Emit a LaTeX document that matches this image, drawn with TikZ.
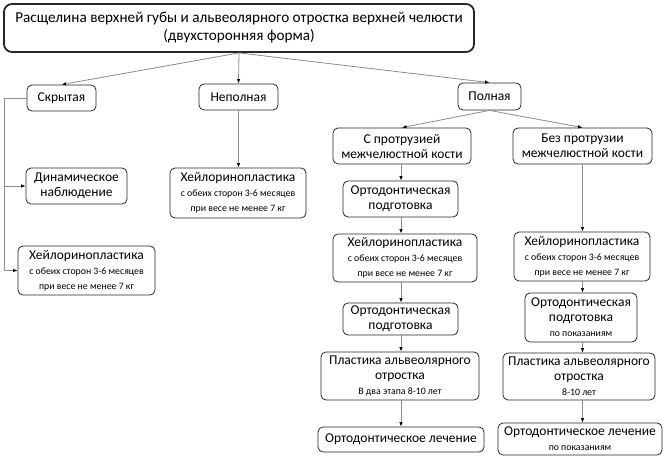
\documentclass[tikz,border=0pt]{standalone}
\usepackage{fontspec}
\setmainfont{Carlito}
\usetikzlibrary{arrows.meta}
\tikzset{
  box/.style={draw=black!85, line width=0.8pt, rounded corners=5pt, align=center, inner sep=0pt, fill=white, font=\fontsize{13.5}{15}\selectfont},
  conn/.style={draw=black!45, line width=0.8pt},
  arr/.style={conn, -{Latex[length=4.5pt,width=3.5pt,color=black]}},
}
\newcommand{\sm}[1]{{\fontsize{9.8}{12.5}\selectfont #1}}
\begin{document}
\begin{tikzpicture}[x=1pt,y=-1pt]
\useasboundingbox (0,0) rectangle (672,462);
\node[box, line width=1.8pt, rounded corners=8pt, minimum width=470pt, minimum height=48pt, font=\fontsize{15.2}{18}\selectfont] (title) at (239,28) {Расщелина верхней губы и альвеолярного отростка верхней челюсти\\(двухсторонняя форма)};
\node[box, minimum width=69pt, minimum height=26pt] (skr) at (61.5,98) {Скрытая};
\node[box, minimum width=79pt, minimum height=26pt] (nep) at (238.5,97) {Неполная};
\node[box, minimum width=63pt, minimum height=27pt] (pol) at (489.5,96.5) {Полная};
\node[box, minimum width=138pt, minimum height=36pt] (sprot) at (402,146) {С протрузией\\межчелюстной кости};
\node[box, minimum width=139pt, minimum height=36pt] (bprot) at (582.5,146) {Без протрузии\\межчелюстной кости};
\node[box, minimum width=101pt, minimum height=36pt] (din) at (76.5,186) {Динамическое\\наблюдение};
\node[box, minimum width=137pt, minimum height=49pt] (hl) at (86.5,270.5) {Хейлоринопластика\\\sm{с обеих сторон 3-6 месяцев}\\\sm{при весе не менее 7 кг}};
\node[box, minimum width=136pt, minimum height=50pt] (hm) at (238,193) {Хейлоринопластика\\\sm{с обеих сторон 3-6 месяцев}\\\sm{при весе не менее 7 кг}};
\node[box, minimum width=115pt, minimum height=36pt] (o1) at (400.5,199) {Ортодонтическая\\подготовка};
\node[box, minimum width=144pt, minimum height=48pt] (h1) at (405,258) {Хейлоринопластика\\\sm{с обеих сторон 3-6 месяцев}\\\sm{при весе не менее 7 кг}};
\node[box, minimum width=115pt, minimum height=32pt] (o2) at (400.5,319) {Ортодонтическая\\подготовка};
\node[box, minimum width=158pt, minimum height=48pt] (p1) at (400,376) {Пластика альвеолярного\\отростка\\\sm{В два этапа 8-10 лет}};
\node[box, minimum width=166pt, minimum height=25pt] (l1) at (401,439.5) {Ортодонтическое лечение};
\node[box, minimum width=136pt, minimum height=49pt] (h2) at (582,256.5) {Хейлоринопластика\\\sm{с обеих сторон 3-6 месяцев}\\\sm{при весе не менее 7 кг}};
\node[box, minimum width=112pt, minimum height=49pt] (o3) at (581,317.5) {Ортодонтическая\\подготовка\\\sm{по показаниям}};
\node[box, minimum width=152pt, minimum height=47pt] (p2) at (579,376.5) {Пластика альвеолярного\\отростка\\\sm{8-10 лет}};
\node[box, minimum width=164pt, minimum height=32pt] (l2) at (580,439) {Ортодонтическое лечение\\\sm{по показаниям}};
% connectors
\draw[arr] (title.south) -- (skr.north);
\draw[arr] (title.south) -- (nep.north);
\draw[arr] (title.south) -- (pol.north);
\draw[arr] (pol.south) -- (sprot.north);
\draw[arr] (pol.south) -- (bprot.north);
\coordinate (lb) at (4,0);
\draw[arr] (skr.west) -| (lb |- hl.west) -- (hl.west);
\draw[arr] (lb |- din.west) -- (din.west);
\draw[arr] (nep.south) -- (nep.south |- hm.north);
\coordinate (c1) at (401,0);
\coordinate (c2) at (582.5,0);
\draw[arr] (c1 |- sprot.south) -- (c1 |- o1.north);
\draw[arr] (c1 |- o1.south) -- (c1 |- h1.north);
\draw[arr] (c1 |- h1.south) -- (c1 |- o2.north);
\draw[arr] (c1 |- o2.south) -- (c1 |- p1.north);
\draw[arr] (c1 |- p1.south) -- (c1 |- l1.north);
\draw[arr] (c2 |- bprot.south) -- (c2 |- h2.north);
\draw[arr] (c2 |- h2.south) -- (c2 |- o3.north);
\draw[arr] (c2 |- o3.south) -- (c2 |- p2.north);
\draw[arr] (c2 |- p2.south) -- (c2 |- l2.north);
\end{tikzpicture}
\end{document}
